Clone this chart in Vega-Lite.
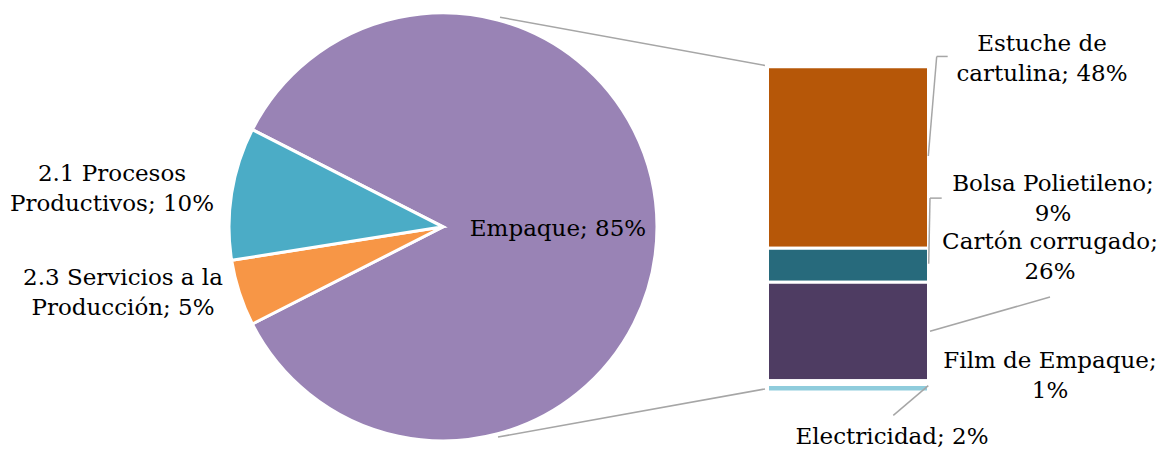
{
  "$schema": "https://vega.github.io/schema/vega-lite/v6.json",
  "width": 1160,
  "height": 449,
  "padding": 0,
  "autosize": {"type": "fit", "contains": "padding"},
  "background": "#ffffff",
  "config": {"view": {"stroke": null}, "axis": {"disable": true}},
  "datasets": {
    "pastel": [
      {"categoria": "Empaque", "valor": 85, "orden": 1},
      {"categoria": "2.3 Servicios a la Producción", "valor": 5, "orden": 2},
      {"categoria": "2.1 Procesos Productivos", "valor": 10, "orden": 3}
    ],
    "barra": [
      {"categoria": "Estuche de cartulina", "valor": 48, "orden": 1},
      {"categoria": "Bolsa Polietileno", "valor": 9, "orden": 2},
      {"categoria": "Cartón corrugado", "valor": 26, "orden": 3},
      {"categoria": "Film de Empaque", "valor": 1, "orden": 4},
      {"categoria": "Electricidad", "valor": 2, "orden": 5}
    ]
  },
  "layer": [
    {
      "data": {"name": "pastel"},
      "mark": {"type": "arc", "radius": 214, "stroke": "#ffffff", "strokeWidth": 3},
      "encoding": {
        "x": {"datum": 443, "type": "quantitative", "scale": {"domain": [0, 1160], "nice": false, "zero": false}},
        "y": {"datum": 43.67, "type": "quantitative", "scale": {"domain": [-14.526, 103.632], "nice": false, "zero": false}},
        "theta": {"field": "valor", "type": "quantitative", "stack": true, "scale": {"range": [-1.09956, 5.18363]}},
        "order": {"field": "orden", "type": "quantitative"},
        "color": {
          "field": "categoria", "type": "nominal", "legend": null,
          "scale": {
            "domain": ["Empaque", "2.1 Procesos Productivos", "2.3 Servicios a la Producción", "Estuche de cartulina", "Bolsa Polietileno", "Cartón corrugado", "Film de Empaque", "Electricidad"],
            "range": ["#9983B5", "#4BACC6", "#F79646", "#B65708", "#276A7C", "#4E3C62", "#FFFFFF", "#8FCCDC"]
          }
        }
      }
    },
    {
      "data": {"name": "barra"},
      "transform": [
        {"stack": "valor", "groupby": [], "sort": [{"field": "orden", "order": "descending"}], "as": ["y0", "y1"]}
      ],
      "mark": {"type": "rect", "stroke": "#ffffff", "strokeWidth": 3},
      "encoding": {
        "x": {"datum": 767.5, "type": "quantitative"},
        "x2": {"datum": 928.5},
        "y": {"field": "y0", "type": "quantitative"},
        "y2": {"field": "y1"},
        "color": {
          "field": "categoria", "type": "nominal", "legend": null,
          "scale": {
            "domain": ["Empaque", "2.1 Procesos Productivos", "2.3 Servicios a la Producción", "Estuche de cartulina", "Bolsa Polietileno", "Cartón corrugado", "Film de Empaque", "Electricidad"],
            "range": ["#9983B5", "#4BACC6", "#F79646", "#B65708", "#276A7C", "#4E3C62", "#FFFFFF", "#8FCCDC"]
          }
        }
      }
    },
    {
      "data": {"name": "pastel"},
      "transform": [{"filter": "datum.categoria === 'Empaque'"}],
      "mark": {"type": "rule", "color": "#A6A6A6", "strokeWidth": 1.5},
      "encoding": {"x": {"datum": 500, "type": "quantitative"}, "y": {"datum": 99.08, "type": "quantitative"}, "x2": {"datum": 765}, "y2": {"datum": 86.34}}
    },
    {
      "data": {"name": "pastel"},
      "transform": [{"filter": "datum.categoria === 'Empaque'"}],
      "mark": {"type": "rule", "color": "#A6A6A6", "strokeWidth": 1.5},
      "encoding": {"x": {"datum": 498, "type": "quantitative"}, "y": {"datum": -11.89, "type": "quantitative"}, "x2": {"datum": 765}, "y2": {"datum": 0.82}}
    },
    {
      "data": {"name": "barra"},
      "transform": [{"filter": "datum.categoria === 'Estuche de cartulina'"}],
      "mark": {"type": "rule", "color": "#A6A6A6", "strokeWidth": 1.5},
      "encoding": {"x": {"datum": 928.3, "type": "quantitative"}, "y": {"datum": 62.39, "type": "quantitative"}, "x2": {"datum": 936.7}, "y2": {"datum": 88.71}}
    },
    {
      "data": {"name": "barra"},
      "transform": [{"filter": "datum.categoria === 'Estuche de cartulina'"}],
      "mark": {"type": "rule", "color": "#A6A6A6", "strokeWidth": 1.5},
      "encoding": {"x": {"datum": 936.7, "type": "quantitative"}, "y": {"datum": 88.71, "type": "quantitative"}, "x2": {"datum": 947.7}, "y2": {"datum": 88.71}}
    },
    {
      "data": {"name": "barra"},
      "transform": [{"filter": "datum.categoria === 'Bolsa Polietileno'"}],
      "mark": {"type": "rule", "color": "#A6A6A6", "strokeWidth": 1.5},
      "encoding": {"x": {"datum": 928.7, "type": "quantitative"}, "y": {"datum": 33.89, "type": "quantitative"}, "x2": {"datum": 930}, "y2": {"datum": 51.26}}
    },
    {
      "data": {"name": "barra"},
      "transform": [{"filter": "datum.categoria === 'Bolsa Polietileno'"}],
      "mark": {"type": "rule", "color": "#A6A6A6", "strokeWidth": 1.5},
      "encoding": {"x": {"datum": 930, "type": "quantitative"}, "y": {"datum": 51.26, "type": "quantitative"}, "x2": {"datum": 941.7}, "y2": {"datum": 51.26}}
    },
    {
      "data": {"name": "barra"},
      "transform": [{"filter": "datum.categoria === 'Cartón corrugado'"}],
      "mark": {"type": "rule", "color": "#A6A6A6", "strokeWidth": 1.5},
      "encoding": {"x": {"datum": 930, "type": "quantitative"}, "y": {"datum": 16.08, "type": "quantitative"}, "x2": {"datum": 1050}, "y2": {"datum": 25.13}}
    },
    {
      "data": {"name": "barra"},
      "transform": [{"filter": "datum.categoria === 'Electricidad'"}],
      "mark": {"type": "rule", "color": "#A6A6A6", "strokeWidth": 1.5},
      "encoding": {"x": {"datum": 928.3, "type": "quantitative"}, "y": {"datum": 1.71, "type": "quantitative"}, "x2": {"datum": 893.3}, "y2": {"datum": -6.18}}
    },
    {
      "data": {"name": "pastel"},
      "transform": [{"filter": "datum.categoria === 'Empaque'"}, {"calculate": "[datum.categoria + '; ' + datum.valor + '%']", "as": "lineas"}],
      "mark": {"type": "text", "font": "DejaVu Serif", "fontSize": 23, "lineHeight": 30, "align": "center", "baseline": "alphabetic", "color": "#000000"},
      "encoding": {"x": {"datum": 558, "type": "quantitative"}, "y": {"datum": 41.18, "type": "quantitative"}, "text": {"field": "lineas", "type": "nominal"}}
    },
    {
      "data": {"name": "pastel"},
      "transform": [{"filter": "datum.categoria === '2.1 Procesos Productivos'"}, {"calculate": "['2.1 Procesos', 'Productivos; ' + datum.valor + '%']", "as": "lineas"}],
      "mark": {"type": "text", "font": "DejaVu Serif", "fontSize": 23, "lineHeight": 30, "align": "center", "baseline": "alphabetic", "color": "#000000"},
      "encoding": {"x": {"datum": 112, "type": "quantitative"}, "y": {"datum": 55.82, "type": "quantitative"}, "text": {"field": "lineas", "type": "nominal"}}
    },
    {
      "data": {"name": "pastel"},
      "transform": [{"filter": "datum.categoria === '2.3 Servicios a la Producción'"}, {"calculate": "['2.3 Servicios a la', 'Producción; ' + datum.valor + '%']", "as": "lineas"}],
      "mark": {"type": "text", "font": "DejaVu Serif", "fontSize": 23, "lineHeight": 30, "align": "center", "baseline": "alphabetic", "color": "#000000"},
      "encoding": {"x": {"datum": 123, "type": "quantitative"}, "y": {"datum": 28.18, "type": "quantitative"}, "text": {"field": "lineas", "type": "nominal"}}
    },
    {
      "data": {"name": "barra"},
      "transform": [{"filter": "datum.categoria === 'Estuche de cartulina'"}, {"calculate": "['Estuche de', 'cartulina; ' + datum.valor + '%']", "as": "lineas"}],
      "mark": {"type": "text", "font": "DejaVu Serif", "fontSize": 23, "lineHeight": 30, "align": "center", "baseline": "alphabetic", "color": "#000000"},
      "encoding": {"x": {"datum": 1042, "type": "quantitative"}, "y": {"datum": 90.03, "type": "quantitative"}, "text": {"field": "lineas", "type": "nominal"}}
    },
    {
      "data": {"name": "barra"},
      "transform": [{"filter": "datum.categoria === 'Bolsa Polietileno'"}, {"calculate": "['Bolsa Polietileno;', datum.valor + '%']", "as": "lineas"}],
      "mark": {"type": "text", "font": "DejaVu Serif", "fontSize": 23, "lineHeight": 30, "align": "center", "baseline": "alphabetic", "color": "#000000"},
      "encoding": {"x": {"datum": 1053, "type": "quantitative"}, "y": {"datum": 53.11, "type": "quantitative"}, "text": {"field": "lineas", "type": "nominal"}}
    },
    {
      "data": {"name": "barra"},
      "transform": [{"filter": "datum.categoria === 'Cartón corrugado'"}, {"calculate": "['Cartón corrugado;', datum.valor + '%']", "as": "lineas"}],
      "mark": {"type": "text", "font": "DejaVu Serif", "fontSize": 23, "lineHeight": 30, "align": "center", "baseline": "alphabetic", "color": "#000000"},
      "encoding": {"x": {"datum": 1050, "type": "quantitative"}, "y": {"datum": 37.84, "type": "quantitative"}, "text": {"field": "lineas", "type": "nominal"}}
    },
    {
      "data": {"name": "barra"},
      "transform": [{"filter": "datum.categoria === 'Film de Empaque'"}, {"calculate": "['Film de Empaque;', datum.valor + '%']", "as": "lineas"}],
      "mark": {"type": "text", "font": "DejaVu Serif", "fontSize": 23, "lineHeight": 30, "align": "center", "baseline": "alphabetic", "color": "#000000"},
      "encoding": {"x": {"datum": 1050, "type": "quantitative"}, "y": {"datum": 6.26, "type": "quantitative"}, "text": {"field": "lineas", "type": "nominal"}}
    },
    {
      "data": {"name": "barra"},
      "transform": [{"filter": "datum.categoria === 'Electricidad'"}, {"calculate": "[datum.categoria + '; ' + datum.valor + '%']", "as": "lineas"}],
      "mark": {"type": "text", "font": "DejaVu Serif", "fontSize": 23, "lineHeight": 30, "align": "center", "baseline": "alphabetic", "color": "#000000"},
      "encoding": {"x": {"datum": 892, "type": "quantitative"}, "y": {"datum": -13.61, "type": "quantitative"}, "text": {"field": "lineas", "type": "nominal"}}
    }
  ]
}
